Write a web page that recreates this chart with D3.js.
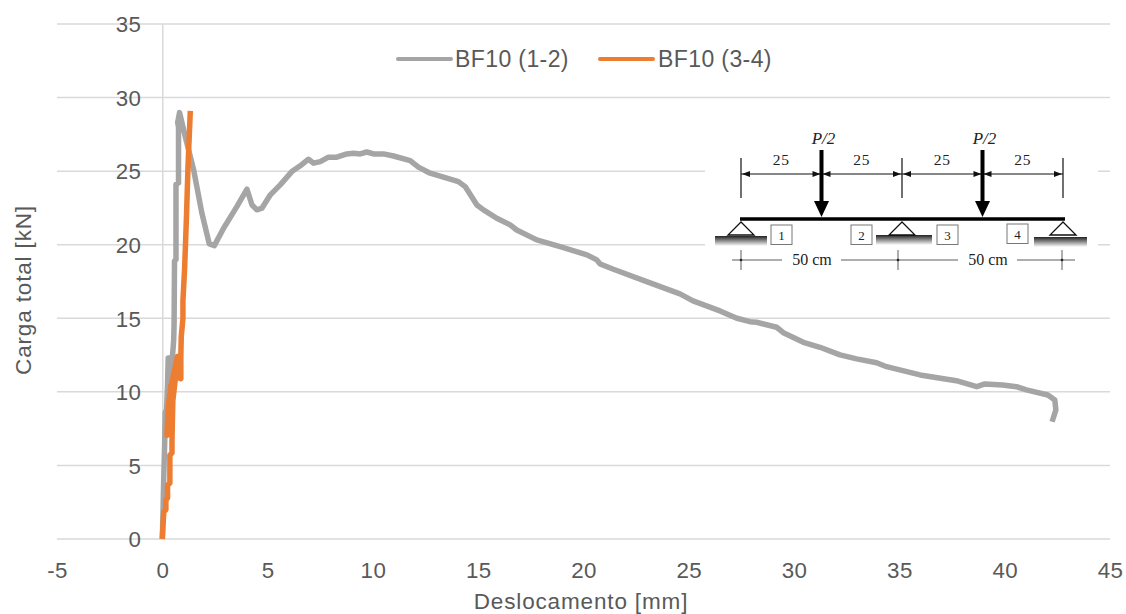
<!DOCTYPE html>
<html><head><meta charset="utf-8">
<script src="https://cdn.jsdelivr.net/npm/d3@7"></script>
<style>html,body{margin:0;padding:0;background:#fff}svg{display:block}
text{font-family:"Liberation Sans",Arial,sans-serif;fill:#595959}
.ins text{font-family:"Liberation Serif",serif;fill:#222}</style></head><body>
<svg id="c" width="1126" height="614"></svg>
<script>
const xTicks=[-5,0,5,10,15,20,25,30,35,40,45];
const yTicks=[0,5,10,15,20,25,30,35];
const seriesNames=["BF10 (1-2)","BF10 (3-4)"];
const seriesColors=["#a5a5a5","#ed7d31"];
const grayX=[0,0.03,0.05,0.08,0.11,0.14,0.2,0.25,0.28,0.33,0.45,0.45,0.42,0.54,0.56,0.58,0.65,0.65,0.77,0.77,0.73,0.82,1.09,1.49,1.88,2.23,2.47,2.91,3.54,4.02,4.26,4.49,4.73,5.13,5.6,6.15,6.55,6.94,7.18,7.5,7.89,8.29,8.76,9.08,9.4,9.71,10.03,10.5,10.98,11.77,12.16,12.72,13.35,14.06,14.38,14.94,15.25,15.88,16.52,16.83,17.78,18.89,20.16,20.63,20.79,21.42,23.0,24.58,25.2,26.48,27.28,27.9,28.22,29.17,29.49,30.44,31.23,32.18,32.97,33.92,34.39,35.98,37.7,38.67,39.06,39.9,40.56,41.03,42.05,42.38,42.43,42.25];
const grayY=[0,1.5,3,4.8,6.3,8.6,8.8,10.5,12.3,12.3,12.3,11.5,11.2,13.5,14.6,18.9,19,24.1,24.2,28,28.3,28.98,27.35,25.08,22.14,20.05,19.94,21.12,22.59,23.77,22.7,22.37,22.48,23.39,24.07,24.97,25.36,25.81,25.54,25.65,25.95,25.95,26.17,26.22,26.17,26.3,26.17,26.17,26.03,25.72,25.27,24.86,24.59,24.29,23.95,22.7,22.37,21.8,21.35,21,20.33,19.87,19.31,18.97,18.69,18.33,17.49,16.66,16.18,15.5,15,14.77,14.73,14.39,14.02,13.37,13.03,12.51,12.24,11.98,11.71,11.15,10.76,10.35,10.54,10.47,10.35,10.13,9.79,9.45,8.77,7.97];
const orangeX=[0,0.03,0.07,0.17,0.17,0.25,0.25,0.36,0.36,0.46,0.46,0.5,0.62,0.4,0.22,0.3,0.42,0.72,0.72,0.88,0.88,0.9,0.98,0.98,1.06,1.15,1.22,1.33];
const orangeY=[0,0.84,1.84,2,2.65,2.8,3.67,3.8,5.7,5.85,6.7,9.4,10.9,10.4,7.05,9.2,10.4,12.4,11,10.9,12.4,13.75,15,16.2,18.4,22,25.3,29.1];
const spanCm=[0,25,50,75,100];
const spanLabels=["25","25","25","25"];
const supportLabels=["1","2","3","4"];

const svg=d3.select("#c");
const x=d3.scaleLinear().domain([-5,45]).range([57,1110]);
const y=d3.scaleLinear().domain([0,35]).range([539,24]);
const GRID="#d9d9d9",FS=22.3;

svg.append("g").selectAll("line").data(yTicks).join("line")
 .attr("x1",x(-5)).attr("x2",x(45)).attr("y1",d=>y(d)).attr("y2",d=>y(d))
 .attr("stroke",GRID).attr("stroke-width",1.5);

const ax=svg.append("g").attr("transform",`translate(0,${y(0)})`)
 .call(d3.axisBottom(x).tickValues(xTicks).tickSize(0).tickPadding(22.7).tickFormat(String));
ax.select(".domain").remove();
const ay=svg.append("g").attr("transform",`translate(${x(0)},0)`)
 .call(d3.axisLeft(y).tickValues(yTicks).tickSize(0).tickPadding(21).tickFormat(String));
ay.select(".domain").attr("stroke",GRID).attr("stroke-width",1.5);
svg.selectAll(".tick text").attr("fill","#595959").style("font-size",FS+"px").style("font-family",'"Liberation Sans"').style("letter-spacing","0.4px");
ay.selectAll(".tick text").attr("dy","0.35em");

svg.append("text").attr("x",581).attr("y",608.5).attr("text-anchor","middle").style("font-size","22.5px").style("letter-spacing","0.85px").text("Deslocamento [mm]");
svg.append("text").attr("transform","translate(31,290) rotate(-90)").attr("text-anchor","middle").style("font-size","22.5px").style("letter-spacing","0.85px").text("Carga total [kN]");

const ins=svg.append("g").attr("class","ins");
ins.append("rect").attr("x",705).attr("y",122).attr("width",393).attr("height",158).attr("fill","#fff");
const defs=svg.append("defs");
const gr=defs.append("linearGradient").attr("id","gnd").attr("x1",0).attr("x2",0).attr("y1",0).attr("y2",1);
gr.append("stop").attr("offset",0).attr("stop-color","#222");
gr.append("stop").attr("offset",1).attr("stop-color","#fff");
const s=d3.scaleLinear().domain([0,100]).range([741,1063]);
const line2=(a,b,c,d,w=1,col="#111")=>ins.append("line").attr("x1",a).attr("y1",b).attr("x2",c).attr("y2",d).attr("stroke",col).attr("stroke-width",w);
[0,50,100].forEach(d=>line2(s(d),158,s(d),198,1.2));
line2(s(0),174,s(100),174,1.1);
d3.pairs(spanCm).forEach(([a,b],i)=>{
  const l=s(a),r=s(b);
  ins.append("path").attr("d",`M${l+1},174l8,-3v6z M${r-1},174l-8,-3v6z`).attr("fill","#111");
  ins.append("text").attr("x",(l+r)/2).attr("y",165).attr("text-anchor","middle").style("font-size","15.5px").style("letter-spacing","0.8px").text(spanLabels[i]);
});
[25,75].forEach(d=>{
  line2(s(d),150,s(d),204,4,"#000");
  ins.append("path").attr("d",`M${s(d)-7.5},201h15l-7.5,16z`).attr("fill","#000");
  ins.append("text").attr("x",s(d)+2).attr("y",144).attr("text-anchor","middle").style("font-size","17px").style("font-style","italic").text("P/2");
});
line2(s(0)-1,219,s(100)+2,219,3.5,"#000");
[[0,715,767,236],[50,876,932,235],[100,1034,1087,237]].forEach(([d,a,b,g])=>{
  ins.append("rect").attr("x",a).attr("y",g).attr("width",b-a).attr("height",10).attr("fill","url(#gnd)");
  ins.append("path").attr("d",`M${s(d)},222l-13,13h26z`).attr("fill","#fff").attr("stroke","#111").attr("stroke-width",1.3);
});
[[771,225],[851,225],[937,225],[1007,224]].forEach(([a,b],i)=>{
  ins.append("rect").attr("x",a).attr("y",b).attr("width",21).attr("height",19.5).attr("fill","#fff").attr("stroke","#777").attr("stroke-width",1);
  ins.append("text").attr("x",a+10.5).attr("y",b+14.5).attr("text-anchor","middle").style("font-size","13px").text(supportLabels[i]);
});
[[732,782],[841,958],[1017,1075]].forEach(([a,b])=>line2(a,260,b,260,.8,"#333"));
[741,898,1062].forEach(a=>{line2(a,250,a,270,.8,"#333");ins.append("circle").attr("cx",a).attr("cy",260).attr("r",1.3).attr("fill","#222");});
[812,988].forEach(a=>ins.append("text").attr("x",a).attr("y",265).attr("text-anchor","middle").style("font-size","16px").text("50 cm"));

const ln=d3.line().x(d=>x(d[0])).y(d=>y(d[1]));
const draw=(xs,ys,c)=>svg.append("path").datum(d3.zip(xs,ys)).attr("d",ln).attr("fill","none").attr("stroke",c).attr("stroke-width",5.5).attr("stroke-linejoin","round").attr("stroke-linecap","butt");
draw(grayX,grayY,seriesColors[0]);
draw(orangeX,orangeY,seriesColors[1]);

[[398,455],[600,658]].forEach(([a,t],i)=>{
  svg.append("line").attr("x1",a).attr("x2",a+53).attr("y1",59).attr("y2",59).attr("stroke",seriesColors[i]).attr("stroke-width",4).attr("stroke-linecap","round");
  svg.append("text").attr("x",t).attr("y",66.7).style("font-size","23px").style("letter-spacing","0.4px").text(seriesNames[i]);
});
</script></body></html>
